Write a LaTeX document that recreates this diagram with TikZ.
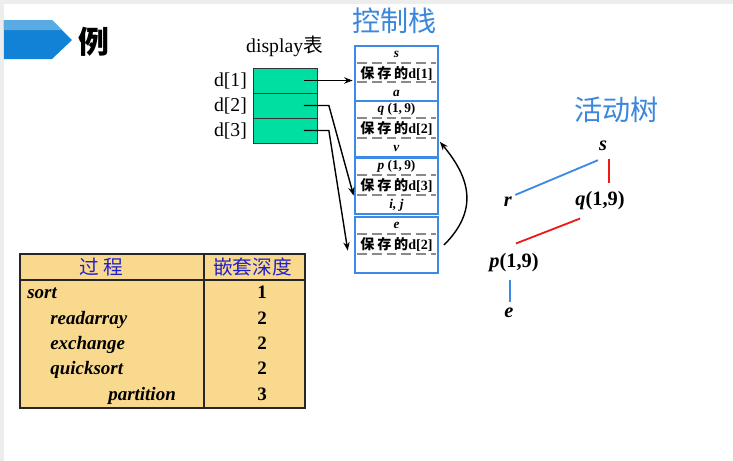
\documentclass[tikz,border=0pt]{standalone}
\usepackage{fontspec}
\setmainfont{Liberation Serif}
\newfontfamily\cjk{Noto Sans CJK SC}
\usetikzlibrary{arrows.meta,calc}
\definecolor{hdblue}{HTML}{1282D6}
\definecolor{hdlight}{HTML}{5AAAE4}
\definecolor{frameblue}{HTML}{3C8AE6}
\definecolor{titleblue}{HTML}{3C86DC}
\definecolor{cellgreen}{HTML}{00DFA2}
\definecolor{tabfill}{HTML}{F9D98E}
\definecolor{headblue}{HTML}{2020CC}
\definecolor{treered}{HTML}{EE1A1A}
\definecolor{sepgray}{HTML}{8A8A8A}
\begin{document}
\begin{tikzpicture}[x=0.025cm, y=-0.025cm, every node/.style={inner sep=0pt},
  frame/.style={draw=frameblue, line width=1.4pt, minimum width=2.075cm, minimum height=1.39cm},
  sep/.style={sepgray, line width=1.2pt, dash pattern=on 7pt off 3.5pt},
  ftext/.style={font=\bfseries\fontsize{9.5}{11}\selectfont},
  fsave/.style={font=\bfseries\fontsize{10}{12}\selectfont},
  cell/.style={draw=black!80, fill=cellgreen, line width=0.5pt, minimum width=1.6cm, minimum height=0.625cm},
  dlab/.style={font=\fontsize{14}{16}\selectfont},
  ptr/.style={-{Stealth[length=6pt,width=4.5pt]}, line width=1pt, shorten >=1pt},
  title/.style={text=titleblue, font=\cjk\fontsize{20}{24}\selectfont},
  tv/.style={font=\bfseries\fontsize{14.5}{17}\selectfont},
  tblue/.style={frameblue, line width=1.3pt},
  tred/.style={treered, line width=1.3pt},
  thead/.style={text=headblue, font=\cjk\fontsize{14}{16}\selectfont},
  trow/.style={anchor=base west, font=\bfseries\itshape\fontsize{13.5}{16}\selectfont},
  tnum/.style={anchor=base, font=\bfseries\fontsize{13.5}{16}\selectfont}]
\fill[black!7] (0,0) rectangle (733,461);
\fill[white] (4,4) rectangle (733,461);
\fill[hdblue] (4,20) -- (52,20) -- (72,40) -- (52,59) -- (4,59) -- cycle;
\fill[hdlight] (4,20) -- (52,20) -- (62,30) -- (4,30) -- cycle;
\node[font=\cjk\bfseries\fontsize{22}{24}\selectfont] (li) at (94,42) {例};
\node[title] (stk) at (394.5,21) {控制栈};
\node[title] (tre) at (616.5,110) {活动树};
\foreach \n/\yc/\top/\mid/\bot in {1/73.5/\textit{s}/1/\textit{a}, 2/129/{\textit{q} (1,\,9)}/2/\textit{v},
    3/186/{\textit{p} (1,\,9)}/3/{\textit{i, j}}, 4/245/\textit{e}/2/{}}{
  \node[frame] (f\n) at (396.5,\yc) {};
  \draw[sep] ($(f\n.north west)+(3,18)$) -- ($(f\n.north east)+(-3,18)$);
  \draw[sep] ($(f\n.north west)+(3,37.5)$) -- ($(f\n.north east)+(-3,37.5)$);
  \node[ftext] (t\n) at ($(f\n.north)+(0,9.5)$) {\top};
  \node[fsave, fill=white, inner xsep=1pt] (m\n) at ($(f\n.north)+(0,28.5)$) {{\cjk 保\hspace{2pt}存\hspace{2pt}的}d[\mid]};
  \node[ftext] (b\n) at ($(f\n.north)+(0,48.5)$) {\bot};
}
\node[cell] (c1) at (285.5,80.5) {};
\node[cell] (c2) at (285.5,105.5) {};
\node[cell] (c3) at (285.5,130.5) {};
\foreach \n in {1,2,3}
  \node[dlab, anchor=east] (l\n) at ($(c\n.west)+(-6,0)$) {d[\n]};
\node[dlab] (disp) at ($(c1.north)+(-1,-21)$) {display{\cjk 表}};
\draw[ptr] ($(c1.east)+(-14,0)$) -- (f1.west |- c1);
\draw[ptr] ($(c2.east)+(-14,0)$) -- ++(25,0) -- ($(f3.west)+(0,11)$);
\draw[ptr] ($(c3.east)+(-14,0)$) -- ++(25,0) -- ($(f4.west)+(-6,7)$);
\draw[ptr] ($(f4.east)+(5,0)$) to[out=45, in=-50, looseness=1.2] ($(f2.south east)+(0,-17)$);
\node[tv] (s) at (603,146) {\textit{s}};
\node[tv] (r) at (508,202) {\textit{r}};
\node[tv] (q) at (600,201) {\textit{q}(1,9)};
\node[tv] (p) at (514,263) {\textit{p}(1,9)};
\node[tv] (e) at (509,313) {\textit{e}};
\draw[tblue] ($(s.south)+(-5,9)$) -- ($(r.north east)+(3,-2)$);
\draw[tred] ($(s.south)+(6,8)$) -- ($(q.north)+(9,-8)$);
\draw[tred] ($(q.south west)+(5,8)$) -- ($(p.north)+(2,-10)$);
\draw[tblue] ($(p.south)+(-4,7)$) -- ($(e.north)+(1,-6)$);
\draw[fill=tabfill, draw=black!85, line width=1.2pt] (20,254) rectangle (305,408);
\draw[black!85, line width=1pt] (20,280) -- (305,280) (204,254) -- (204,408);
\node[thead] (h1) at (101,267) {过\hspace{3pt}程};
\node[thead] (h2) at (252.5,267) {嵌套深度};
\node[trow] (p1) at (27,298) {sort};
\node[trow] (p2) at (50,324) {readarray};
\node[trow] (p3) at (50,349) {exchange};
\node[trow] (p4) at (50,374) {quicksort};
\node[trow] (p5) at (108,400) {partition};
\foreach \n/\d in {1/1,2/2,3/2,4/2,5/3}
  \node[tnum] (n\n) at (262,0 |- p\n.base) {\d};
\end{tikzpicture}
\end{document}
